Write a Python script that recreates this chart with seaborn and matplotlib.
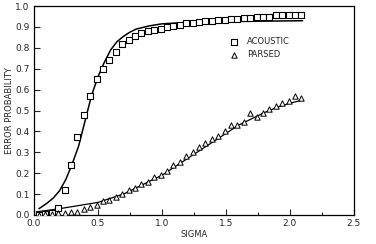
import matplotlib
matplotlib.use("Agg")
import matplotlib.pyplot as plt
import seaborn as sns
import numpy as np
import pandas as pd
from matplotlib.ticker import MultipleLocator

# ---- data ----
sigma = [0.04, 0.09, 0.14, 0.19, 0.24, 0.29, 0.34, 0.39, 0.44, 0.49,
         0.54, 0.59, 0.64, 0.69, 0.74, 0.79, 0.84, 0.89, 0.94, 0.99,
         1.04, 1.09, 1.14, 1.19, 1.24, 1.29, 1.34, 1.39, 1.44, 1.49,
         1.54, 1.59, 1.64, 1.69, 1.74, 1.79, 1.84, 1.89, 1.94, 1.99,
         2.04, 2.09]
acoustic = [0.00, 0.005, 0.01, 0.035, 0.12, 0.24, 0.375, 0.48, 0.57, 0.65,
            0.70, 0.74, 0.78, 0.82, 0.84, 0.855, 0.87, 0.88, 0.885, 0.89,
            0.90, 0.905, 0.91, 0.92, 0.92, 0.925, 0.93, 0.93, 0.935, 0.935,
            0.94, 0.94, 0.945, 0.945, 0.95, 0.95, 0.95, 0.955, 0.955, 0.955,
            0.955, 0.955]
parsed = [0.0, 0.005, 0.005, 0.01, 0.01, 0.015, 0.015, 0.03, 0.04, 0.05,
          0.065, 0.07, 0.085, 0.10, 0.12, 0.13, 0.15, 0.16, 0.18, 0.19,
          0.21, 0.24, 0.255, 0.28, 0.30, 0.325, 0.345, 0.365, 0.38, 0.40,
          0.43, 0.43, 0.445, 0.49, 0.47, 0.49, 0.505, 0.52, 0.535, 0.545,
          0.57, 0.56]

acoustic_fit_x = [0.04, 0.10, 0.15, 0.20, 0.25, 0.30, 0.35, 0.40, 0.45, 0.50,
                  0.55, 0.60, 0.65, 0.70, 0.75, 0.80, 0.90, 1.00, 1.20, 1.50,
                  1.80, 2.10]
acoustic_fit_y = [0.03, 0.055, 0.08, 0.115, 0.17, 0.245, 0.33, 0.45, 0.57, 0.66,
                  0.73, 0.79, 0.83, 0.855, 0.875, 0.89, 0.905, 0.915, 0.922, 0.926,
                  0.928, 0.93]
parsed_fit_x = [0.02, 0.20, 0.40, 0.50, 0.60, 0.70, 0.80, 0.90, 1.00, 1.10,
                1.20, 1.30, 1.40, 1.50, 1.60, 1.70, 1.80, 1.90, 2.00, 2.10]
parsed_fit_y = [0.015, 0.03, 0.05, 0.06, 0.08, 0.10, 0.13, 0.16, 0.19, 0.23,
                0.27, 0.31, 0.35, 0.39, 0.43, 0.46, 0.49, 0.515, 0.535, 0.55]

x_ticks = [0.0, 0.5, 1.0, 1.5, 2.0, 2.5]
y_ticks = [0.0, 0.1, 0.2, 0.3, 0.4, 0.5, 0.6, 0.7, 0.8, 0.9, 1.0]

sns.set_style("ticks")
plt.rcParams['font.family'] = ['DejaVu Sans']

fig = plt.figure(figsize=(3.76, 2.44), dpi=100)
ax = fig.add_axes([0.09, 0.119, 0.851, 0.856])

df_pts = pd.DataFrame({"sigma": sigma, "acoustic": acoustic, "parsed": parsed})
df_af = pd.DataFrame({"x": acoustic_fit_x, "y": acoustic_fit_y})
df_pf = pd.DataFrame({"x": parsed_fit_x, "y": parsed_fit_y})

sns.lineplot(data=df_af, x="x", y="y", ax=ax, color="black", lw=1.1)
sns.lineplot(data=df_pf, x="x", y="y", ax=ax, color="black", lw=0.9)
sns.scatterplot(data=df_pts, x="sigma", y="acoustic", ax=ax, marker="s", s=16,
                facecolor="white", edgecolor="black", linewidth=0.8,
                label="ACOUSTIC", zorder=3)
sns.scatterplot(data=df_pts, x="sigma", y="parsed", ax=ax, marker="^", s=15,
                facecolor="white", edgecolor="black", linewidth=0.7,
                label="PARSED", zorder=3)

ax.set_xlim(0, 2.5)
ax.set_ylim(0, 1.0)
ax.set_xticks(x_ticks)
ax.set_yticks(y_ticks)
ax.xaxis.set_minor_locator(MultipleLocator(0.25))
ax.set_xticklabels([f"{t:.1f}" for t in x_ticks], fontsize=6.5)
ax.set_yticklabels([f"{t:.1f}" for t in y_ticks], fontsize=6.5)
ax.tick_params(axis="both", which="major", direction="in", length=4, width=0.8, pad=3)
ax.tick_params(axis="x", which="minor", direction="in", length=2.5, width=0.8)
ax.tick_params(axis="y", which="minor", left=False)
for sp in ax.spines.values():
    sp.set_visible(True)
    sp.set_linewidth(0.9)
    sp.set_color("black")

ax.set_xlabel("SIGMA", fontsize=6, labelpad=1)
ax.set_ylabel("ERROR PROBABILITY", fontsize=6, labelpad=1)

leg = ax.legend(loc="upper left", bbox_to_anchor=(0.58, 0.88), frameon=False,
                fontsize=6, handletextpad=0.6, labelspacing=0.5, borderpad=0.2,
                markerscale=1.0)

fig.savefig("out.png", dpi=100, facecolor="white")
